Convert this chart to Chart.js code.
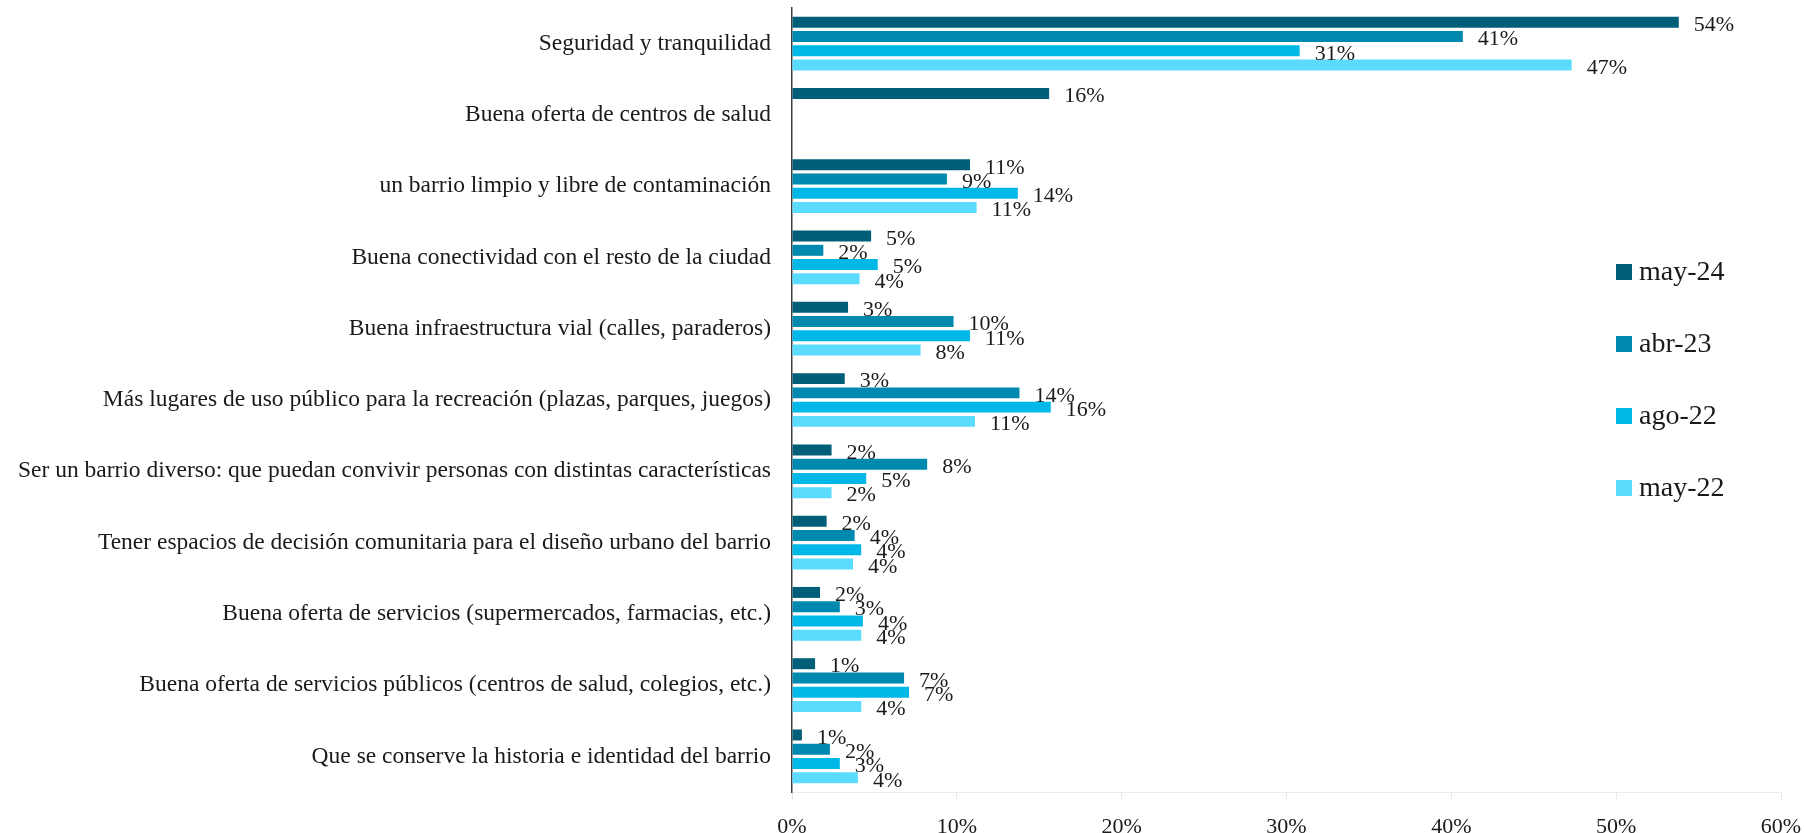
<!DOCTYPE html>
<html>
<head>
<meta charset="utf-8">
<script src="https://cdn.jsdelivr.net/npm/chart.js@4.4.1/dist/chart.umd.min.js"></script>
<style>
html,body{margin:0;padding:0;background:#fff;}
#wrap{width:1804px;height:833px;position:relative;}
</style>
</head>
<body>
<div id="wrap"><canvas id="c" width="1804" height="833"></canvas></div>
<script>
const categories = [
  "Seguridad y tranquilidad",
  "Buena oferta de centros de salud",
  "un barrio limpio y libre de contaminación",
  "Buena conectividad con el resto de la ciudad",
  "Buena infraestructura vial (calles, paraderos)",
  "Más lugares de uso público para la recreación (plazas, parques, juegos)",
  "Ser un barrio diverso: que puedan convivir personas con distintas características",
  "Tener espacios de decisión comunitaria para el diseño urbano del barrio",
  "Buena oferta de servicios (supermercados, farmacias, etc.)",
  "Buena oferta de servicios públicos (centros de salud, colegios, etc.)",
  "Que se conserve la historia e identidad del barrio"
];
const seriesNames = ["may-24", "abr-23", "ago-22", "may-22"];
const may24 = [53.8, 15.6, 10.8, 4.8, 3.4, 3.2, 2.4, 2.1, 1.7, 1.4, 0.6];
const abr23 = [40.7, null, 9.4, 1.9, 9.8, 13.8, 8.2, 3.8, 2.9, 6.8, 2.3];
const ago22 = [30.8, null, 13.7, 5.2, 10.8, 15.7, 4.5, 4.2, 4.3, 7.1, 2.9];
const may22 = [47.3, null, 11.2, 4.1, 7.8, 11.1, 2.4, 3.7, 4.2, 4.2, 4.0];
const xTicks = [0, 10, 20, 30, 40, 50, 60];

const colors = ["#005E78", "#0089AE", "#00B8E8", "#5BDCFF"];
const FONT = "'Liberation Serif', 'Times New Roman', serif";

const valueLabels = {
  id: 'valueLabels',
  afterDatasetsDraw(chart) {
    const ctx = chart.ctx;
    ctx.save();
    ctx.font = "22px " + FONT;
    ctx.fillStyle = "#1a1a1a";
    ctx.textAlign = "left";
    ctx.textBaseline = "middle";
    chart.data.datasets.forEach((ds, di) => {
      const meta = chart.getDatasetMeta(di);
      meta.data.forEach((el, i) => {
        const v = ds.data[i];
        if (v === null || v === undefined) return;
        ctx.fillText(Math.round(v) + "%", el.x + 15, el.y + 3);
      });
    });
    ctx.restore();
  }
};

const floatLegend = {
  id: 'floatLegend',
  afterDraw(chart) {
    const ctx = chart.ctx;
    ctx.save();
    ctx.font = "28px " + FONT;
    ctx.textAlign = "left";
    ctx.textBaseline = "middle";
    chart.data.datasets.forEach((ds, i) => {
      const cy = 272 + i * 72;
      ctx.fillStyle = ds.backgroundColor;
      ctx.fillRect(1616, cy - 8, 16, 16);
      ctx.fillStyle = "#1a1a1a";
      ctx.fillText(ds.label, 1639, cy + 1);
    });
    ctx.restore();
  }
};

const datasets = [may24, abr23, ago22, may22].map((d, i) => ({
  label: seriesNames[i],
  data: d,
  backgroundColor: colors[i],
  borderWidth: 0,
  categoryPercentage: 0.80,
  barPercentage: 0.77
}));

new Chart(document.getElementById('c'), {
  type: 'bar',
  data: { labels: categories, datasets },
  options: {
    indexAxis: 'y',
    responsive: false,
    animation: false,
    devicePixelRatio: 1,
    layout: { padding: { left: 0, right: 23, top: 8, bottom: 0 } },
    plugins: {
      legend: { display: false },
      tooltip: { enabled: false }
    },
    scales: {
      x: {
        min: 0, max: 60,
        afterBuildTicks(scale) { scale.ticks = xTicks.map(v => ({ value: v })); },
        afterFit(scale) { scale.height = 41; scale.paddingLeft = 0; scale.paddingRight = 0; },
        ticks: {
          callback: v => v + "%",
          font: { family: FONT, size: 22 },
          color: "#1a1a1a",
          padding: 14,
          maxRotation: 0
        },
        grid: { display: true, drawOnChartArea: false, drawTicks: true, tickLength: 8, color: "#E8E8E8", lineWidth: 1 },
        border: { display: true, color: "#EBEBEB", width: 1 }
      },
      y: {
        afterFit(scale) { scale.width = 792; scale.paddingTop = 0; scale.paddingBottom = 0; },
        ticks: {
          font: { family: FONT, size: 23.5 },
          color: "#1a1a1a",
          padding: 21,
          autoSkip: false
        },
        grid: { display: true, drawOnChartArea: false, drawTicks: false },
        border: { display: true, color: "#404040", width: 1.5 }
      }
    }
  },
  plugins: [valueLabels, floatLegend]
});
</script>
</body>
</html>
